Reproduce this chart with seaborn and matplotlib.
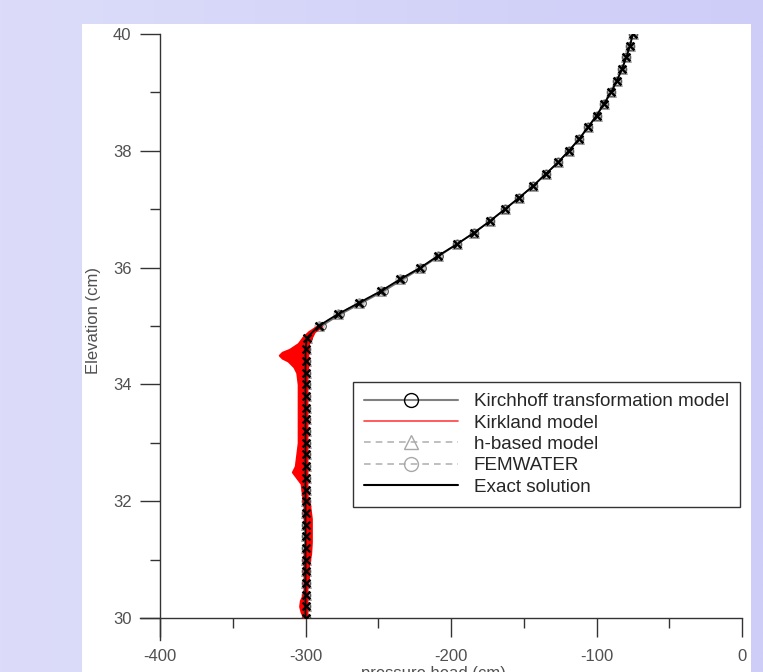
import numpy as np
import pandas as pd
import seaborn as sns
import matplotlib.pyplot as plt
from matplotlib.lines import Line2D
from matplotlib.patches import Rectangle
from matplotlib.colors import LinearSegmentedColormap

# elevation of the nodes (cm), every 0.2 cm from 40 down to 30
elev = [40.0, 39.8, 39.6, 39.4, 39.2, 39.0, 38.8, 38.6, 38.4, 38.2, 38.0,
        37.8, 37.6, 37.4, 37.2, 37.0, 36.8, 36.6, 36.4, 36.2, 36.0,
        35.8, 35.6, 35.4, 35.2, 35.0, 34.8, 34.6, 34.4, 34.2, 34.0,
        33.8, 33.6, 33.4, 33.2, 33.0, 32.8, 32.6, 32.4, 32.2, 32.0,
        31.8, 31.6, 31.4, 31.2, 31.0, 30.8, 30.6, 30.4, 30.2, 30.0]

exact = [-75, -77, -79.5, -82.5, -86, -90, -95, -100, -106, -112, -119,
         -126.5, -135, -143.5, -153, -163, -173, -184, -196, -209, -221,
         -235, -248, -263, -278, -291, -299, -300, -300, -300, -300,
         -300, -300, -300, -300, -300, -300, -300, -300, -300, -300,
         -300, -300, -300, -300, -300, -300, -300, -300, -300, -300]

kirchhoff = [-75, -77, -79.5, -82.5, -86, -90, -95, -100, -106, -112, -119,
             -126.5, -135, -143.5, -153, -163, -173, -184, -196, -208, -220,
             -233, -246, -261, -276, -289, -298, -300, -300, -300, -300,
             -300, -300, -300, -300, -300, -300, -300, -300, -300, -300,
             -300, -300, -300, -300, -300, -300, -300, -300, -300, -300]

h_based = [-75, -77, -79.5, -82.5, -86, -90, -95, -100, -106, -112, -119,
           -126.5, -135, -143.5, -153, -163, -173, -184, -196, -209, -221,
           -235, -248, -263, -278, -291, -299, -300, -300, -300, -300,
           -300, -300, -300, -300, -300, -300, -300, -300, -300, -300,
           -300, -300, -300, -300, -300, -300, -300, -300, -300, -300]

femwater = [-75, -77, -79.5, -82.5, -86, -90, -95, -100, -106, -112, -119,
            -126.5, -135, -143.5, -153, -163, -173, -184, -196, -209, -221,
            -235, -248, -263, -278, -291, -299, -300, -300, -300, -300,
            -300, -300, -300, -300, -300, -300, -300, -300, -300, -300,
            -300, -300, -300, -300, -300, -300, -300, -300, -300, -300]

# Kirkland model: oscillating band below the wetting front
kirk_z = [30.0, 30.1, 30.2, 30.3, 30.4, 30.5, 30.7, 30.9, 31.1, 31.3, 31.5,
          31.7, 31.9, 32.1, 32.3, 32.4, 32.5, 32.6, 32.8, 33.0, 33.2, 33.4,
          33.6, 33.8, 34.0, 34.1, 34.2, 34.3, 34.4, 34.45, 34.5, 34.55,
          34.6, 34.7, 34.8, 34.9, 35.0]
kirk_lo = [-301, -303, -304, -303.5, -301.5, -301, -301, -301, -301, -300, -300,
           -301, -301, -302, -303, -306, -309, -307, -306, -305, -305, -305,
           -305, -305, -305, -305.5, -306, -308, -312, -316, -318, -316,
           -311, -305, -302, -298, -292]
kirk_hi = [-299, -299, -299, -299, -299, -299, -298, -298, -296.5, -296, -296,
           -296, -297, -299, -299, -299, -299, -299, -299, -299, -299, -299,
           -299, -299, -299, -299, -299, -298.5, -298.5, -298.5, -298.5, -298.5,
           -298, -298, -296, -294, -289]

labels = ["Kirchhoff transformation model", "Kirkland model", "h-based model",
          "FEMWATER", "Exact solution"]

df = pd.DataFrame({"elev": elev, "exact": exact, "kirchhoff": kirchhoff,
                   "h_based": h_based, "femwater": femwater})

sns.set_style("white")
plt.rcParams["font.family"] = ["Liberation Sans", "DejaVu Sans"]
plt.rcParams["axes.unicode_minus"] = False

fig = plt.figure(figsize=(7.63, 6.72), dpi=100)

# lavender gradient background + white panel
bg = fig.add_axes([0, 0, 1, 1], zorder=-10)
grad = np.linspace(0, 1, 256).reshape(1, -1)
cmap = LinearSegmentedColormap.from_list("lav", ["#dcdcfa", "#cdcdf8"])
bg.imshow(grad, aspect="auto", cmap=cmap, extent=[0, 1, 0, 1])
bg.add_patch(Rectangle((82 / 763, 0), (751 - 82) / 763, (672 - 24) / 672,
                       facecolor="white", edgecolor="none"))
bg.set_xlim(0, 1)
bg.set_ylim(0, 1)
bg.axis("off")

ax = fig.add_axes([160 / 763, 1 - 618 / 672, 582 / 763, 584 / 672])
ax.patch.set_alpha(0)

gray_dash = (0, (4, 3))
sns.lineplot(data=df, x="h_based", y="elev", sort=False, estimator=None, ax=ax,
             color="#b4b4b4", lw=1, linestyle="--", marker="^", markersize=6.5,
             markerfacecolor="none", markeredgecolor="#a0a0a0", legend=False)
sns.lineplot(data=df, x="femwater", y="elev", sort=False, estimator=None, ax=ax,
             color="#b4b4b4", lw=1, linestyle="--", marker="o", markersize=6.5,
             markerfacecolor="none", markeredgecolor="#a0a0a0", legend=False)
sns.lineplot(data=df, x="kirchhoff", y="elev", sort=False, estimator=None, ax=ax,
             color="#707070", lw=1.2, marker="o", markersize=5.5,
             markerfacecolor="none", markeredgecolor="#404040", legend=False)

ax.fill_betweenx(kirk_z, kirk_lo, kirk_hi, color="#ff0000", lw=1.5, zorder=3)

sns.lineplot(data=df, x="exact", y="elev", sort=False, estimator=None, ax=ax,
             color="black", lw=1.3, legend=False, zorder=4)
sns.scatterplot(data=df, x="exact", y="elev", marker="x", color="black",
                s=32, linewidth=1.7, ax=ax, zorder=5, legend=False)

ax.set_xlim(-400, 0)
ax.set_ylim(30, 40)
ax.set_xticks([-400, -300, -200, -100, 0])
ax.set_xticks([-350, -250, -150, -50], minor=True)
ax.set_yticks([30, 32, 34, 36, 38, 40])
ax.set_yticks([31, 33, 35, 37, 39], minor=True)

for s in ["top", "right"]:
    ax.spines[s].set_visible(False)
for s in ["left", "bottom"]:
    ax.spines[s].set_color("#333333")
    ax.spines[s].set_linewidth(1)
ax.spines["bottom"].set_bounds(-414, 0)
ax.spines["left"].set_bounds(29.62, 40)

ax.tick_params(which="both", bottom=True, left=True, top=False, right=False)
ax.tick_params(which="major", direction="out", length=14.5, width=1,
               color="#333333", labelsize=12, labelcolor="#505050", pad=6)
ax.tick_params(which="minor", direction="out", length=7.5, width=1,
               color="#333333")
ax.tick_params(axis="x", which="major", length=13.5, pad=8.5)

ax.set_xlabel("pressure head (cm)", fontsize=12, color="#505050")
ax.xaxis.set_label_coords(0.47, -0.082, transform=ax.transAxes)
ax.xaxis.label.set_va("top")
ax.set_ylabel("Elevation (cm)", fontsize=12, color="#505050")
ax.yaxis.set_label_coords(-0.102, 0.51)

handles = [
    Line2D([], [], color="#808080", lw=1.5, marker="o", markersize=10,
           markerfacecolor="none", markeredgecolor="black"),
    Line2D([], [], color="#ff4040", lw=1.2),
    Line2D([], [], color="#b4b4b4", lw=1.2, linestyle=gray_dash, marker="^",
           markersize=10, markerfacecolor="none", markeredgecolor="#a8a8a8"),
    Line2D([], [], color="#b4b4b4", lw=1.2, linestyle=gray_dash, marker="o",
           markersize=10, markerfacecolor="none", markeredgecolor="#a8a8a8"),
    Line2D([], [], color="black", lw=1.5),
]
leg = ax.legend(handles, labels, loc="lower right",
                bbox_to_anchor=(0.9966, 0.19), borderaxespad=0,
                fontsize=13.6, numpoints=1, handlelength=5.0,
                handletextpad=0.8, labelspacing=0.22, borderpad=0.6,
                frameon=True, fancybox=False, framealpha=1)
leg.get_frame().set_edgecolor("#333333")
leg.get_frame().set_linewidth(1)

fig.savefig("out.png", dpi=100)
